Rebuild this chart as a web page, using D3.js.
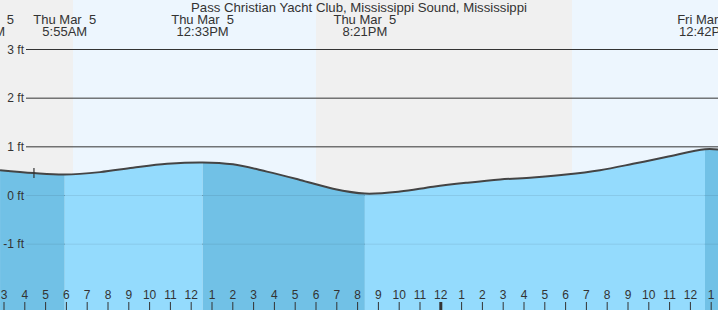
<!DOCTYPE html>
<html><head><meta charset="utf-8">
<script src="https://cdn.jsdelivr.net/npm/d3@7/dist/d3.min.js"></script>
<style>
html,body{margin:0;padding:0;background:#fff;}
svg{display:block;font-family:"Liberation Sans",Arial,sans-serif;}
text{white-space:pre;}
</style></head><body>
<script>
// ---- data (hours since Thu Mar 5 00:00, heights in ft) ----
const title = "Pass Christian Yacht Club, Mississippi Sound, Mississippi";
const tideHours = [2.81, 4.44, 5.92, 7.62, 9.20, 10.84, 12.55, 14.01, 15.64, 17.23, 18.82, 20.35, 22.04, 23.63, 25.21, 26.85, 28.43, 30.02, 31.65, 33.24, 34.83, 36.70, 37.33];
const tideFeet  = [0.51, 0.45, 0.42, 0.47, 0.56, 0.64, 0.67, 0.63, 0.48, 0.31, 0.13, 0.03, 0.07, 0.17, 0.25, 0.32, 0.36, 0.42, 0.51, 0.64, 0.78, 0.94, 0.935];
const eventHours = [1.97, 5.92, 12.55, 20.35, 36.70];
const eventDays  = ["Thu Mar  5", "Thu Mar  5", "Thu Mar  5", "Thu Mar  5", "Fri Mar  6"];
const eventTimes = ["1:58AM", "5:55AM", "12:33PM", "8:21PM", "12:42PM"];
const sunHours = [6.32, 18.0, 30.31];           // sunrise, sunset, sunrise
const nowHour = 4.44;
const yTicks = [-1, 0, 1, 2, 3];
const hourTicks = d3.range(3, 38);

const W = 718, H = 310;
const x = d3.scaleLinear().domain([3, 37]).range([4, 711.2]);
const y = d3.scaleLinear().domain([0, 3]).range([195, 49]);
const xMin = x.invert(0), xMax = x.invert(W);

const svg = d3.select("body").append("svg").attr("width", W).attr("height", H);

// day/night background
const bounds = [xMin, ...sunHours, xMax];
for (let i = 0; i < bounds.length - 1; i++) {
  svg.append("rect").attr("x", x(bounds[i])).attr("y", 0)
    .attr("width", x(bounds[i+1]) - x(bounds[i])).attr("height", H)
    .attr("fill", i % 2 === 0 ? "#f0f0f0" : "#edf6fe");
}

// grid lines
const gridG = svg.append("g");
yTicks.forEach(t => {
  gridG.append("line").attr("x1", 26).attr("x2", W).attr("y1", y(t) + 0.5).attr("y2", y(t) + 0.5)
    .attr("stroke", "#333").attr("stroke-width", 1);
});

// water
const pts = tideHours.map((h, i) => [h, tideFeet[i]]);
const curve = d3.curveCatmullRom.alpha(0.5);
const area = d3.area().x(d => x(d[0])).y0(H).y1(d => y(d[1])).curve(curve);
const line = d3.line().x(d => x(d[0])).y(d => y(d[1])).curve(curve);
svg.append("clipPath").attr("id", "water").append("path").attr("d", area(pts));
const wg = svg.append("g").attr("clip-path", "url(#water)");
const wb = [xMin, ...eventHours.slice(1), xMax];
for (let i = 0; i < wb.length - 1; i++) {
  wg.append("rect").attr("x", x(wb[i])).attr("y", 0)
    .attr("width", x(wb[i+1]) - x(wb[i])).attr("height", H)
    .attr("fill", i % 2 === 0 ? "#71c1e6" : "#94dbfd");
}
yTicks.forEach(t => {
  wg.append("line").attr("x1", 26).attr("x2", W).attr("y1", y(t) + 0.5).attr("y2", y(t) + 0.5)
    .attr("stroke", "#000").attr("stroke-opacity", 0.08).attr("stroke-width", 1);
});
svg.append("path").attr("d", line(pts)).attr("fill", "none")
  .attr("stroke", "#444").attr("stroke-width", 2);

// now marker
const nowY = y(tideFeet[1]);
svg.append("line").attr("x1", x(nowHour)).attr("x2", x(nowHour))
  .attr("y1", nowY - 5).attr("y2", nowY + 5).attr("stroke", "#333").attr("stroke-width", 1.2);

// y labels
yTicks.forEach(t => {
  svg.append("text").attr("x", 24).attr("y", y(t) + 4.5).attr("text-anchor", "end")
    .attr("font-size", 12).attr("fill", "#333").text(t + " ft");
});

// hour ticks
hourTicks.forEach(h => {
  const hr = h % 12 === 0 ? 12 : h % 12;
  const isMid = h % 24 === 0;
  svg.append("line").attr("x1", x(h)).attr("x2", x(h)).attr("y1", 302).attr("y2", H)
    .attr("stroke", "#333").attr("stroke-width", isMid ? 3 : 1);
  svg.append("text").attr("x", x(h)).attr("y", 299).attr("text-anchor", "middle")
    .attr("font-size", 12).attr("fill", "#333").text(hr);
});

// title and event labels
svg.append("text").attr("x", W / 2).attr("y", 12).attr("text-anchor", "middle")
  .attr("font-size", 13.2).attr("fill", "#333").text(title);
eventHours.forEach((h, i) => {
  svg.append("text").attr("x", x(h)).attr("y", 24).attr("text-anchor", "middle")
    .attr("font-size", 13).attr("fill", "#333").text(eventDays[i]);
  svg.append("text").attr("x", x(h)).attr("y", 36).attr("text-anchor", "middle")
    .attr("font-size", 13).attr("fill", "#333").text(eventTimes[i]);
});
</script>
</body></html>
